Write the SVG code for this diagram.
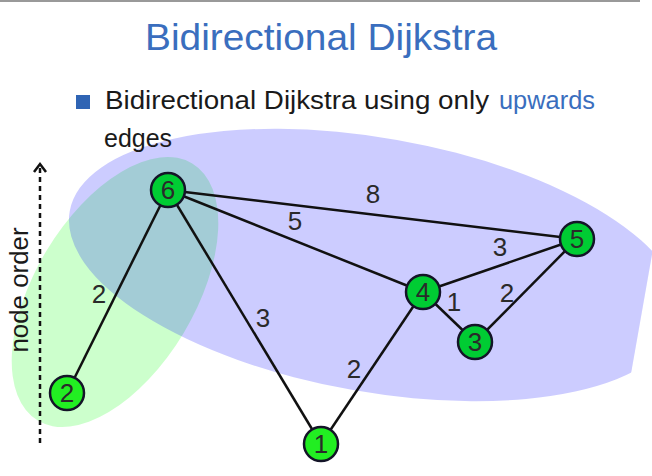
<svg xmlns="http://www.w3.org/2000/svg" width="652" height="476" viewBox="0 0 652 476">
<style>
.title{font-family:"Liberation Sans",Arial,sans-serif;font-size:37px;fill:#3a6ebe}
.body{font-family:"Liberation Sans",Arial,sans-serif;font-size:25px;fill:#1a1a1a}
.hl{fill:#3a6ebe}
.edge{stroke:#111;stroke-width:2.5;fill:none}
.node{stroke:#141428;stroke-width:2.5}
.nin{fill:#00cc33}
.nout{fill:#22ee22}
.nlabel{font-family:"Liberation Sans",Arial,sans-serif;font-size:26px;fill:#2a2a2a;text-anchor:middle}
.elabel{font-family:"Liberation Sans",Arial,sans-serif;font-size:26px;fill:#2a2a2a;text-anchor:middle}
</style>
<defs>
<clipPath id="clipR"><rect x="0" y="0" width="646" height="476"/></clipPath>
</defs>
<rect x="0" y="0" width="652" height="476" fill="#ffffff"/>
<rect x="0" y="0" width="640" height="2" fill="#999999"/>
<text class="title" x="145" y="50" textLength="352" lengthAdjust="spacingAndGlyphs">Bidirectional Dijkstra</text>
<rect x="76" y="95" width="14" height="14" fill="#2f64b4"/>
<text class="body" x="105" y="109" textLength="384" lengthAdjust="spacingAndGlyphs">Bidirectional Dijkstra using only</text>
<text class="body hl" x="499" y="109" textLength="96" lengthAdjust="spacingAndGlyphs">upwards</text>
<g id="regions">
<ellipse cx="115" cy="292" rx="150" ry="80" transform="rotate(-59 115 292)" fill="#00ff00" fill-opacity="0.2"/>
<ellipse cx="375" cy="265" rx="310" ry="127" transform="rotate(10 375 265)" fill="#0000ff" fill-opacity="0.2" clip-path="url(#clipR)"/>
</g>
<text class="body" x="104" y="147">edges</text>
<g id="axis">
<line x1="40" y1="168" x2="40" y2="443" stroke="#111" stroke-width="2.5" stroke-dasharray="5 4"/>
<polyline points="34,172 40,164 46,172" fill="none" stroke="#111" stroke-width="2.5"/>
<text class="body" transform="translate(28 290) rotate(-90)" x="0" y="0" text-anchor="middle" textLength="125" lengthAdjust="spacingAndGlyphs">node order</text>
</g>
<g id="connectors">
<line class="edge" x1="168" y1="190" x2="67" y2="393"/>
<line class="edge" x1="168" y1="190" x2="321" y2="444"/>
<line class="edge" x1="168" y1="190" x2="577" y2="239"/>
<line class="edge" x1="168" y1="190" x2="423" y2="292"/>
<line class="edge" x1="423" y1="292" x2="577" y2="239"/>
<line class="edge" x1="423" y1="292" x2="475" y2="342"/>
<line class="edge" x1="475" y1="342" x2="577" y2="239"/>
<line class="edge" x1="423" y1="292" x2="321" y2="444"/>
<text class="elabel" x="373" y="203">8</text>
<text class="elabel" x="295" y="230">5</text>
<text class="elabel" x="99" y="303">2</text>
<text class="elabel" x="263" y="327">3</text>
<text class="elabel" x="500" y="256">3</text>
<text class="elabel" x="507" y="302">2</text>
<text class="elabel" x="454" y="311">1</text>
<text class="elabel" x="354" y="378">2</text>
</g>
<g id="node6"><circle class="node nin" cx="168" cy="190" r="17"/><text class="nlabel" x="168" y="199">6</text></g>
<g id="node2"><circle class="node nout" cx="67" cy="393" r="17"/><text class="nlabel" x="67" y="402">2</text></g>
<g id="node1"><circle class="node nout" cx="321" cy="444" r="17"/><text class="nlabel" x="321" y="453">1</text></g>
<g id="node4"><circle class="node nin" cx="423" cy="292" r="17"/><text class="nlabel" x="423" y="301">4</text></g>
<g id="node5"><circle class="node nin" cx="577" cy="239" r="17"/><text class="nlabel" x="577" y="248">5</text></g>
<g id="node3"><circle class="node nin" cx="475" cy="342" r="17"/><text class="nlabel" x="475" y="351">3</text></g>
</svg>
